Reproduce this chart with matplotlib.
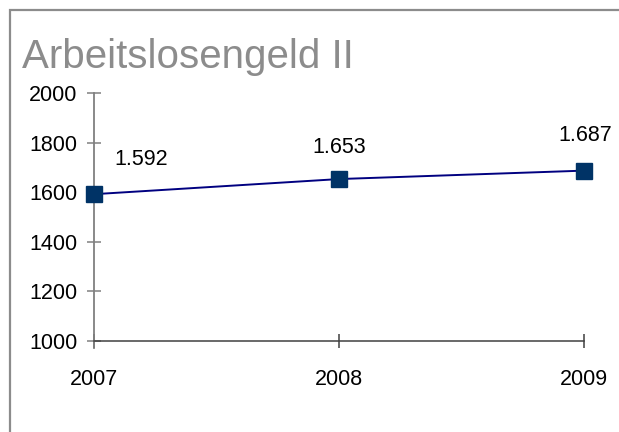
import matplotlib
matplotlib.use("Agg")
import matplotlib.pyplot as plt
from matplotlib.patches import Rectangle

plt.rcParams['font.family'] = ['Liberation Sans', 'DejaVu Sans']

years = ["2007", "2008", "2009"]
values = [1592, 1653, 1687]
value_labels = ["1.592", "1.653", "1.687"]
y_ticks = [1000, 1200, 1400, 1600, 1800, 2000]

W, H = 619, 432
fig = plt.figure(figsize=(W / 100, H / 100), dpi=100)
fig.patch.set_facecolor("white")

# outer frame, running off the right and bottom edges
fig.patches.append(Rectangle((9.5 / W, -0.05), 1.2, 1 - 9.5 / H + 0.05,
                             transform=fig.transFigure, fill=False,
                             edgecolor="#8c8c8c", linewidth=1.6, clip_on=False))

fig.text(22 / W, 1 - 68 / H, "Arbeitslosengeld II", fontsize=29,
         color="#8c8c8c", ha="left", va="baseline")

ax = fig.add_axes([94 / W, 1 - 341 / H, (584 - 94) / W, (341 - 93) / H])
x = list(range(len(years)))
ax.plot(x, values, color="#000080", linewidth=1.4, marker="s",
        markersize=11, markerfacecolor="#003366", markeredgecolor="#003366",
        zorder=3, clip_on=False)

offsets = [(34, 25), (0, 23), (1, 25)]
for xi, v, lab, off in zip(x, values, value_labels, offsets):
    ax.annotate(lab, (xi, v), xytext=off, textcoords="offset points",
                ha="center", va="center", fontsize=15.5, color="black")

ax.set_xlim(0, 2)
ax.set_ylim(1000, 2000)
ax.set_xticks(x)
ax.set_xticklabels(years)
ax.set_yticks(y_ticks)
ax.set_yticklabels([str(t) for t in y_ticks])

for s in ["top", "right"]:
    ax.spines[s].set_visible(False)
ax.spines["left"].set_color("#808080")
ax.spines["left"].set_linewidth(1.3)
ax.spines["left"].set_bounds(1000 - 28, 2000)
ax.spines["bottom"].set_color("#404040")
ax.spines["bottom"].set_linewidth(1.1)

ax.tick_params(axis="y", direction="inout", length=10, width=1.1,
               color="#808080", labelsize=15.5, pad=7)
ax.tick_params(axis="x", direction="inout", length=10, width=1.1,
               color="#404040", labelsize=15.5, pad=15)
ax.patch.set_alpha(0)

fig.savefig("out.png", dpi=100, facecolor="white")
